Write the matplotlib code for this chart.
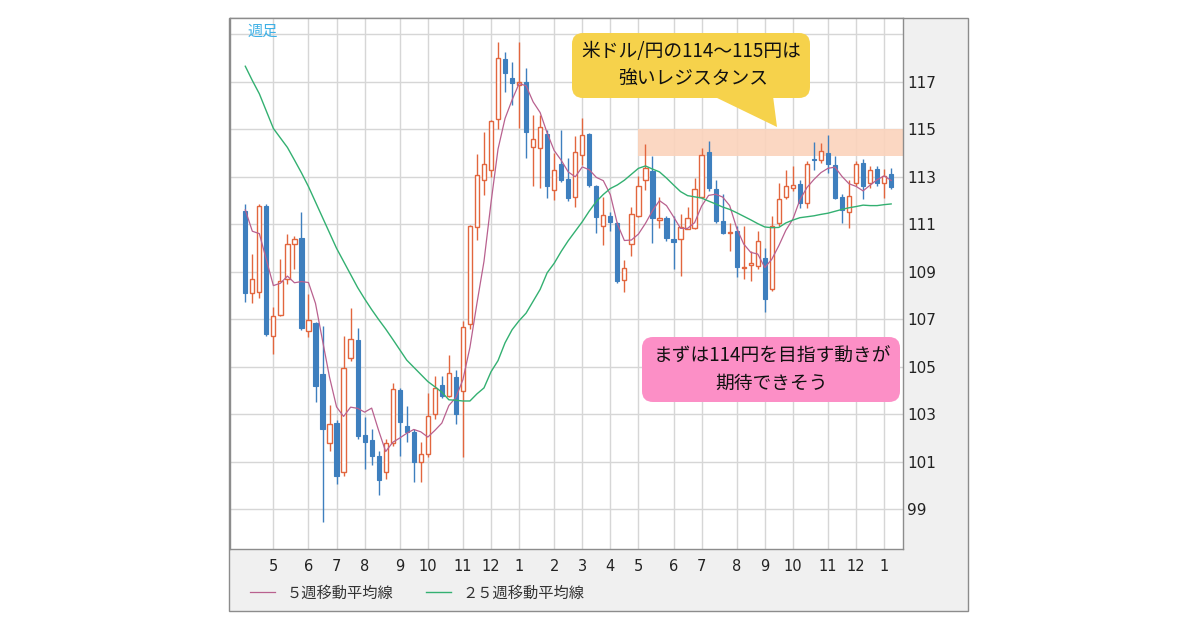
import matplotlib
matplotlib.use("Agg")
import matplotlib.pyplot as plt
import numpy as np
import pandas as pd
from matplotlib.patches import FancyBboxPatch, Rectangle, Polygon

# ---------------- data (weekly USD/JPY) ----------------
week_start = pd.date_range("2016-04-04", periods=93, freq="W-MON")

opens = [111.56, 108.08, 108.12, 111.77, 106.30, 107.19, 108.69, 110.16, 110.40, 106.48,
         106.82, 104.69, 101.77, 102.61, 100.55, 105.37, 106.11, 102.13, 101.91, 101.23,
         100.56, 101.78, 104.02, 102.51, 102.23, 101.00, 101.32, 103.00, 104.22, 103.76,
         104.56, 103.97, 106.78, 110.88, 112.84, 113.29, 115.42, 117.94, 117.15, 116.88,
         117.00, 114.24, 114.20, 114.80, 112.44, 113.52, 112.89, 112.13, 113.91, 114.79,
         112.61, 110.93, 111.35, 111.04, 108.66, 110.17, 111.36, 112.84, 113.22, 111.17,
         111.27, 110.36, 110.36, 110.81, 110.85, 112.15, 114.03, 112.46, 111.13, 110.64,
         110.71, 109.14, 109.29, 109.25, 109.58, 108.27, 111.06, 112.15, 112.53, 112.71,
         111.90, 113.75, 113.71, 113.99, 113.50, 112.15, 111.51, 112.73, 113.57, 112.73,
         113.32, 112.73, 113.11]
highs = [111.84, 109.74, 111.84, 111.84, 107.49, 109.53, 110.58, 110.51, 111.49, 108.05,
         106.86, 106.72, 103.40, 102.73, 106.30, 107.46, 106.62, 102.86, 102.37, 101.46,
         101.95, 104.32, 104.11, 103.35, 102.37, 101.81, 103.90, 104.60, 104.60, 105.47,
         104.86, 106.94, 110.95, 113.96, 114.86, 115.40, 118.68, 118.26, 117.83, 118.68,
         117.56, 115.60, 115.60, 114.97, 113.98, 114.96, 113.77, 114.71, 115.49, 114.82,
         112.65, 112.16, 111.53, 111.11, 109.50, 111.74, 113.03, 114.36, 113.88, 112.15,
         111.35, 111.34, 111.44, 111.73, 112.94, 114.20, 114.52, 112.87, 112.25, 111.06,
         110.92, 110.92, 109.88, 110.71, 109.98, 111.34, 112.74, 113.29, 113.43, 112.87,
         113.64, 114.44, 114.41, 114.76, 113.85, 112.25, 112.87, 113.64, 113.74, 113.43,
         113.43, 113.32, 113.36]
lows = [107.70, 107.66, 107.89, 106.30, 105.53, 107.14, 108.48, 109.11, 106.54, 106.23,
        103.50, 98.45, 101.46, 100.06, 100.41, 105.23, 101.95, 100.70, 100.84, 99.58,
        100.28, 101.67, 101.25, 101.81, 100.14, 100.14, 101.20, 102.79, 103.69, 103.70,
        102.57, 101.17, 106.57, 110.32, 112.24, 113.00, 115.00, 116.58, 116.00, 115.04,
        113.78, 112.59, 112.52, 112.08, 112.02, 112.79, 111.98, 111.71, 113.49, 112.55,
        110.62, 110.13, 110.69, 108.52, 108.13, 109.64, 111.29, 112.44, 110.22, 110.85,
        110.30, 109.11, 108.80, 110.78, 110.78, 112.10, 112.39, 111.06, 110.57, 109.88,
        108.76, 108.69, 108.62, 109.10, 107.31, 108.20, 110.92, 112.04, 112.40, 111.69,
        111.69, 113.29, 113.57, 113.15, 112.04, 111.06, 110.85, 112.60, 112.04, 112.53,
        112.60, 112.11, 112.50]
closes = [108.08, 108.69, 111.77, 106.37, 107.14, 108.59, 110.16, 110.37, 106.62, 106.96,
          104.20, 102.37, 102.58, 100.41, 104.94, 106.16, 102.09, 101.81, 101.23, 100.21,
          101.78, 104.04, 102.68, 102.23, 101.00, 101.32, 102.90, 104.11, 103.76, 104.71,
          103.00, 106.66, 110.91, 113.05, 113.53, 115.35, 117.98, 117.35, 116.93, 117.00,
          114.90, 114.58, 115.11, 112.62, 113.28, 112.86, 112.12, 114.05, 114.75, 112.65,
          111.29, 111.39, 111.11, 108.59, 109.15, 111.42, 112.61, 113.36, 111.27, 111.27,
          110.41, 110.25, 110.89, 111.27, 112.46, 113.92, 112.53, 111.13, 110.64, 110.67,
          109.18, 109.18, 109.36, 110.29, 107.84, 110.92, 112.04, 112.60, 112.64, 111.90,
          113.53, 113.71, 114.09, 113.54, 112.11, 111.59, 112.18, 113.54, 112.60, 113.29,
          112.73, 113.01, 112.55]
ma5 = [111.60, 110.70, 110.60, 109.50, 108.41, 108.51, 108.81, 108.53, 108.58, 108.54,
       107.66, 106.10, 104.55, 103.30, 102.90, 103.29, 103.24, 103.08, 103.25, 102.30,
       101.42, 101.81, 101.99, 102.19, 102.35, 102.25, 102.03, 102.31, 102.62, 103.36,
       103.70, 104.45, 105.81, 107.67, 109.43, 111.90, 114.16, 115.45, 116.23, 116.92,
       116.83, 116.15, 115.70, 114.84, 114.10, 113.69, 113.20, 112.99, 113.41, 113.29,
       112.97, 112.83, 112.24, 111.01, 110.31, 110.33, 110.58, 111.03, 111.56, 111.99,
       111.78, 111.31, 110.82, 110.82, 111.06, 111.76, 112.21, 112.26, 112.14, 111.78,
       110.83, 110.16, 109.81, 109.74, 109.17, 109.52, 110.09, 110.74, 111.21, 112.02,
       112.54, 112.88, 113.17, 113.35, 113.40, 113.01, 112.70, 112.59, 112.40, 112.64,
       112.87, 113.03, 112.84]
ma25 = [117.65, 117.05, 116.49, 115.76, 115.03, 114.63, 114.23, 113.70, 113.16, 112.58,
        111.93, 111.28, 110.63, 109.98, 109.43, 108.88, 108.33, 107.85, 107.40, 106.98,
        106.58, 106.15, 105.71, 105.27, 104.97, 104.67, 104.37, 104.15, 103.92, 103.60,
        103.58, 103.55, 103.55, 103.85, 104.10, 104.78, 105.25, 106.00, 106.55, 106.93,
        107.25, 107.75, 108.25, 108.95, 109.35, 109.85, 110.30, 110.70, 111.10, 111.55,
        111.95, 112.25, 112.50, 112.65, 112.85, 113.10, 113.35, 113.45, 113.32, 113.20,
        112.94, 112.65, 112.37, 112.20, 112.15, 112.10, 111.97, 111.85, 111.72, 111.62,
        111.48, 111.33, 111.18, 111.02, 110.88, 110.85, 110.86, 111.05, 111.17, 111.27,
        111.31, 111.35, 111.41, 111.46, 111.54, 111.62, 111.69, 111.74, 111.80, 111.78,
        111.78, 111.82, 111.85]

band_low, band_high = 113.85, 115.0
band_start = "2017-05-01"
y_grid = list(range(99, 120, 2))
y_labels = [str(v) for v in range(99, 118, 2)] + [""]
legend_labels = ["５週移動平均線", "２５週移動平均線"]
period_label = "週足"
callout_lines = ["米ドル/円の114〜115円は", "強いレジスタンス"]
pink_lines = ["まずは114円を目指す動きが", "期待できそう"]

# ---------------- styling ----------------
JP = ["Noto Sans CJK JP", "DejaVu Sans"]
UP = "#e2663e"
DN = "#3e7fbe"
C_MA5 = "#b9618f"
C_MA25 = "#33b071"
GRID = "#d6d6d6"
W, H = 1200, 630

fig = plt.figure(figsize=(12, 6.3), dpi=100)
fig.patch.set_facecolor("white")

# background panel (pixel coordinates)
bg = fig.add_axes([0, 0, 1, 1], zorder=-1)
bg.set_xlim(0, W); bg.set_ylim(H, 0); bg.axis("off")
bg.add_patch(Rectangle((229, 18), 739, 593, facecolor="#f0f0f0",
                       edgecolor="#8c8c8c", lw=1))

# main axes
L, R, T, B = 230, 903, 18, 549
ax = fig.add_axes([L / W, 1 - B / H, (R - L) / W, (B - T) / H])
ax.set_facecolor("white")

x = np.arange(len(closes))
o = np.array(opens); c = np.array(closes); h = np.array(highs); lo = np.array(lows)
up = c >= o
dn = ~up

ax.vlines(x[up], lo[up], h[up], color=UP, lw=1.0, zorder=3)
ax.vlines(x[dn], lo[dn], h[dn], color=DN, lw=1.0, zorder=3)
ax.bar(x[up], c[up] - o[up], bottom=o[up], width=0.6, facecolor="white",
       edgecolor=UP, lw=1.0, zorder=4)
ax.bar(x[dn], o[dn] - c[dn], bottom=c[dn], width=0.6, facecolor=DN,
       edgecolor=DN, lw=0.8, zorder=4)

l5, = ax.plot(x, ma5, color=C_MA5, lw=0.9, zorder=5)
l25, = ax.plot(x, ma25, color=C_MA25, lw=1.0, zorder=5)

xl = (L - 245.3) / 7.02
xr = (R - 245.3) / 7.02
ax.set_xlim(xl, xr)
ax.set_ylim(99 - (B - 509) / 23.74, 99 + (509 - T) / 23.74)

# resistance band
months = week_start.month
bi = int(np.where(week_start == pd.Timestamp(band_start))[0][0])
ax.add_patch(Rectangle((bi, band_low), xr - bi, band_high - band_low,
                       facecolor="#fbd3bc", edgecolor="none", alpha=0.9, zorder=1))

# ticks
tick_idx = [i for i in range(1, len(week_start)) if months[i] != months[i - 1]]
ax.set_xticks(tick_idx)
ax.set_xticklabels([str(months[i]) for i in tick_idx])
ax.set_yticks(y_grid)
ax.set_yticklabels(y_labels)
ax.yaxis.tick_right()
ax.tick_params(axis="x", length=0, pad=7, labelsize=10.5, labelcolor="#222222")
ax.tick_params(axis="y", length=0, pad=3, labelsize=11, labelcolor="#222222")
ax.grid(True, color=GRID, lw=1.0)
ax.set_axisbelow(True)
for s in ax.spines.values():
    s.set_color("#8c8c8c"); s.set_linewidth(1)

# legend
leg = fig.legend([l5, l25], legend_labels, loc="center left",
                 bbox_to_anchor=(250 / W, 1 - 593 / H), ncol=2, frameon=False,
                 borderaxespad=0, borderpad=0, handlelength=1.65,
                 handletextpad=0.75, columnspacing=2.1,
                 prop={"family": JP, "size": 11})
for t in leg.get_texts():
    t.set_color("#333333")

# overlay annotations (pixel coordinates)
ov = fig.add_axes([0, 0, 1, 1], zorder=10)
ov.set_xlim(0, W); ov.set_ylim(H, 0); ov.axis("off")

ov.text(263, 31, period_label, color="#3db0e6", fontsize=11, family=JP,
        ha="center", va="center")

YEL = "#f6d24b"
ov.add_patch(FancyBboxPatch((572, 33), 238, 65,
                            boxstyle="round,pad=0,rounding_size=11",
                            facecolor=YEL, edgecolor="none"))
ov.add_patch(Polygon([(713, 96), (773, 96), (777, 127)], closed=True,
                     facecolor=YEL, edgecolor="none"))
ov.text(691, 52, callout_lines[0], fontsize=13.5, family=JP, ha="center",
        va="center", color="#111111")
ov.text(693, 78, callout_lines[1], fontsize=13.5, family=JP, ha="center",
        va="center", color="#111111")

PINK = "#fc8fc6"
ov.add_patch(FancyBboxPatch((642, 337), 258, 65,
                            boxstyle="round,pad=0,rounding_size=11",
                            facecolor=PINK, edgecolor="none"))
ov.text(772, 356, pink_lines[0], fontsize=13.5, family=JP, ha="center",
        va="center", color="#111111")
ov.text(772, 383, pink_lines[1], fontsize=13.5, family=JP, ha="center",
        va="center", color="#111111")

fig.savefig("out.png", dpi=100, facecolor="white")
